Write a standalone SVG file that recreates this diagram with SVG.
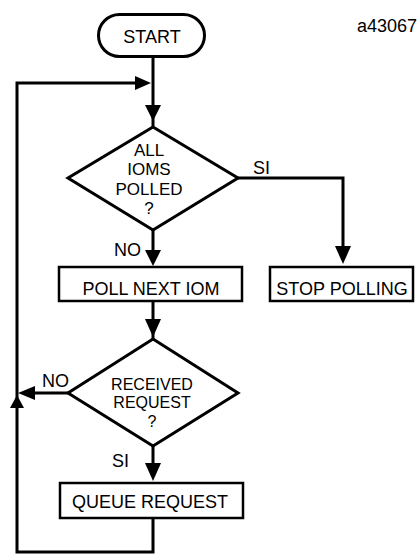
<svg xmlns="http://www.w3.org/2000/svg" width="417" height="554" viewBox="0 0 417 554">
<style>
text{font-family:"Liberation Sans",Arial,sans-serif;font-size:18px;fill:#000}
.c{text-anchor:middle}
.d1{font-size:17px}
.d2{font-size:16px}
.box{fill:#fff;stroke:#000;stroke-width:2.5}
.term{fill:#fff;stroke:#000;stroke-width:3}
.dia{fill:#fff;stroke:#000;stroke-width:3;stroke-linejoin:miter}
.ln{fill:none;stroke:#000;stroke-width:3}
.ah{fill:#000;stroke:none}
</style>
<rect width="417" height="554" fill="#fff"/>
<text x="357" y="32">a43067</text>
<g id="connectors">
<path class="ln" d="M153,56 V127"/>
<polygon class="ah" points="145,105 161,105 153,121"/>
<path class="ln" d="M153,518 V552 H17 V83 H140"/>
<polygon class="ah" points="135,76 135,90 151,83"/>
<path class="ln" d="M238,178 H343 V250"/>
<polygon class="ah" points="335,246 351,246 343,264"/>
<path class="ln" d="M153,230 V252"/>
<polygon class="ah" points="145,250 161,250 153,266"/>
<path class="ln" d="M153,301 V339"/>
<polygon class="ah" points="145,319 161,319 153,337"/>
<path class="ln" d="M68,393 H30"/>
<polygon class="ah" points="35,386 35,400 18,393"/>
<polygon class="ah" points="10,408 24,408 17,395"/>
<path class="ln" d="M153,446 V466"/>
<polygon class="ah" points="145,463 161,463 153,481"/>
<text x="253" y="174">SI</text>
<text x="114" y="256">NO</text>
<text x="42" y="387">NO</text>
<text x="112" y="467">SI</text>
</g>
<g id="start">
<rect class="term" x="98.5" y="14.5" width="106" height="42" rx="21"/>
<text class="c" x="152" y="43">START</text>
</g>
<g id="all-polled">
<polygon class="dia" points="153,127 238,178 153,230 68,178"/>
<text class="c d1" x="149" y="156">ALL</text>
<text class="c d1" x="149" y="175">IOMS</text>
<text class="c d1" x="149" y="195">POLLED</text>
<text class="c d1" x="149" y="214">?</text>
</g>
<g id="poll-next">
<rect class="box" x="59" y="267" width="183" height="34"/>
<text class="c" x="151" y="295">POLL NEXT IOM</text>
</g>
<g id="stop-polling">
<rect class="box" x="270" y="267" width="143" height="34"/>
<text class="c" x="342" y="295">STOP POLLING</text>
</g>
<g id="received">
<polygon class="dia" points="153,339 238,393 153,446 68,393"/>
<text class="c d2" x="152" y="390">RECEIVED</text>
<text class="c d2" x="152" y="408">REQUEST</text>
<text class="c d2" x="152" y="427">?</text>
</g>
<g id="queue">
<rect class="box" x="60" y="483" width="183" height="35"/>
<text class="c" x="150" y="508">QUEUE REQUEST</text>
</g>
</svg>
